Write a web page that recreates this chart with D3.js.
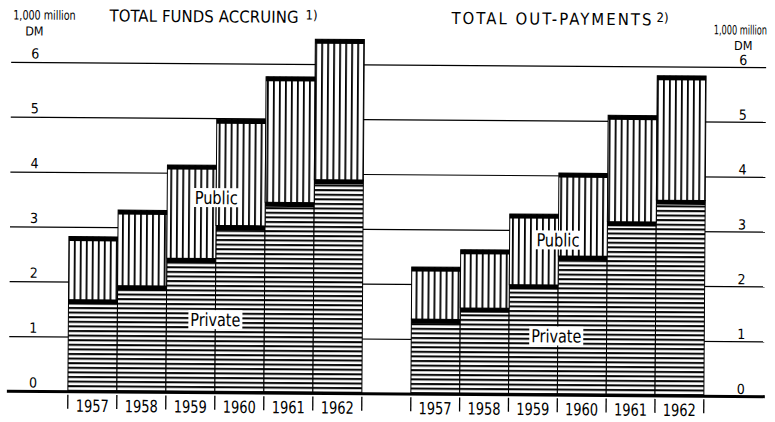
<!DOCTYPE html>
<html>
<head>
<meta charset="utf-8">
<script src="https://cdn.jsdelivr.net/npm/d3@7"></script>
<style>
  body { margin: 0; background: #fff; }
  svg { display: block; font-family: "DejaVu Sans Condensed", "Liberation Sans Narrow", "DejaVu Sans", sans-serif; font-stretch: condensed; }
</style>
</head>
<body>
<svg></svg>
<script>
// Datos en 1.000 millones de DM
const years = ["1957", "1958", "1959", "1960", "1961", "1962"];
const fundsPrivate = [1.68, 1.94, 2.45, 3.05, 3.48, 3.90];
const fundsPublic  = [1.15, 1.38, 1.70, 1.94, 2.29, 2.56];
const payPrivate   = [1.37, 1.58, 2.01, 2.54, 3.17, 3.57];
const payPublic    = [0.95, 1.06, 1.29, 1.51, 1.94, 2.27];
const yTicks = [0, 1, 2, 3, 4, 5, 6];

const width = 775, height = 422;

const svg = d3.select("svg")
  .attr("width", width)
  .attr("height", height);

// Patrones de rayado (público vertical, privado horizontal)
const defs = svg.append("defs");
const vert = defs.append("pattern")
  .attr("id", "vert")
  .attr("patternUnits", "userSpaceOnUse")
  .attr("width", 6).attr("height", 6);
vert.append("rect").attr("width", 6).attr("height", 6).attr("fill", "#fff");
vert.append("rect").attr("x", 2).attr("width", 1.8).attr("height", 6).attr("fill", "#000");

const horiz = defs.append("pattern")
  .attr("id", "horiz")
  .attr("patternUnits", "userSpaceOnUse")
  .attr("width", 6).attr("height", 4.6);
horiz.append("rect").attr("width", 6).attr("height", 4.6).attr("fill", "#fff");
horiz.append("rect").attr("y", 1).attr("width", 6).attr("height", 2).attr("fill", "#000");

// el escaneo original está ligeramente girado
const g = svg.append("g").attr("transform", "rotate(0.4, 387, 230)");

const y = d3.scaleLinear().domain([0, 6]).range([394, 65]);

// texto comprimido a un ancho dado
function narrowText(sel, w) {
  return sel.attr("textLength", w).attr("lengthAdjust", "spacingAndGlyphs");
}

// Líneas de la cuadrícula
g.append("g")
  .selectAll("line")
  .data(yTicks.filter(d => d > 0))
  .join("line")
  .attr("x1", 10).attr("x2", 765)
  .attr("y1", d => y(d)).attr("y2", d => y(d))
  .attr("stroke", "#000")
  .attr("stroke-width", 1.2);

// Etiquetas del eje izquierdo y derecho
g.append("g")
  .selectAll("text")
  .data(yTicks)
  .join("text")
  .attr("x", 34).attr("y", d => y(d) - 4)
  .attr("text-anchor", "middle")
  .style("font-size", "14px")
  .text(d => d);

g.append("g")
  .selectAll("text")
  .data(yTicks)
  .join("text")
  .attr("x", 742).attr("y", d => y(d) - 2.5)
  .attr("text-anchor", "middle")
  .style("font-size", "14px")
  .text(d => d);

// Unidades (comprimidas con una escala horizontal)
g.append("text")
  .attr("transform", "translate(43,22) scale(0.82,1)")
  .attr("text-anchor", "middle")
  .style("font-size", "13px").text("1,000 million");
g.append("text").attr("x", 33).attr("y", 38).attr("text-anchor", "middle")
  .style("font-size", "12.5px").text("DM");
g.append("text")
  .attr("transform", "translate(739,32) scale(0.7,1)")
  .attr("text-anchor", "middle")
  .style("font-size", "13px").text("1,000 million");
g.append("text").attr("x", 742).attr("y", 47.5).attr("text-anchor", "middle")
  .style("font-size", "12.5px").text("DM");

const panels = [
  { title: "TOTAL FUNDS ACCRUING", note: "1)", tx: 108, tw: 189, nx: 304,
    priv: fundsPrivate, pub: fundsPublic, x0: 69, x1: 363,
    pubLabel: [216, 199], privLabel: [216, 321] },
  { title: "TOTAL OUT-PAYMENTS", note: "2)", tx: 450, tw: 200, nx: 655,
    priv: payPrivate, pub: payPublic, x0: 412, x1: 705,
    pubLabel: [558, 239], privLabel: [557, 335] }
];

const stack = d3.stack().keys(["priv", "pub"]);

panels.forEach(p => {
  const rows = years.map((yr, i) => ({ year: yr, priv: p.priv[i], pub: p.pub[i] }));
  const series = stack(rows);
  const x = d3.scaleBand().domain(years).range([p.x0, p.x1]).padding(0);

  // Título
  g.append("text")
    .attr("x", p.tx).attr("y", 23.5)
    .attr("textLength", p.tw).attr("lengthAdjust", "spacing")
    .style("font-size", "16.5px")
    .text(p.title);
  g.append("text")
    .attr("x", p.nx).attr("y", 20)
    .style("font-size", "13px")
    .text(p.note);

  // Barras apiladas
  g.append("g")
    .selectAll("g")
    .data(series)
    .join("g")
    .each(function(s) {
      d3.select(this).selectAll("rect")
        .data(s)
        .join("rect")
        .attr("x", d => x(d.data.year))
        .attr("y", d => y(d[1]))
        .attr("width", x.bandwidth())
        .attr("height", d => y(d[0]) - y(d[1]))
        .attr("fill", s.key === "pub" ? "url(#vert)" : "url(#horiz)")
        .attr("stroke", "#000")
        .attr("stroke-width", 1);
    });

  // Franjas negras en la parte superior de cada segmento
  g.append("g")
    .selectAll("g")
    .data(series)
    .join("g")
    .selectAll("rect")
    .data(d => d)
    .join("rect")
    .attr("x", d => x(d.data.year))
    .attr("y", d => y(d[1]))
    .attr("width", x.bandwidth())
    .attr("height", 4.5)
    .attr("fill", "#000");

  // Etiquetas Public / Private con fondo blanco
  [["Public", p.pubLabel, 43], ["Private", p.privLabel, 50]].forEach(([txt, pos, w]) => {
    const t = narrowText(g.append("text")
      .attr("x", pos[0]).attr("y", pos[1])
      .attr("dy", "0.35em")
      .attr("text-anchor", "middle")
      .style("font-size", "18px")
      .text(txt), w);
    const bb = t.node().getBBox();
    g.insert("rect", () => t.node())
      .attr("x", bb.x - 2).attr("y", bb.y + 1)
      .attr("width", bb.width + 4).attr("height", bb.height - 2)
      .attr("fill", "#fff");
  });

  // Años y separadores
  const edges = years.map(d => x(d)).concat([p.x1]);
  g.append("g")
    .selectAll("line")
    .data(edges)
    .join("line")
    .attr("x1", d => d).attr("x2", d => d)
    .attr("y1", 397).attr("y2", 411)
    .attr("stroke", "#000").attr("stroke-width", 1.3);

  g.append("g")
    .selectAll("text")
    .data(years)
    .join("text")
    .attr("x", d => x(d) + x.bandwidth() / 2)
    .attr("y", 414)
    .attr("text-anchor", "middle")
    .attr("textLength", 33).attr("lengthAdjust", "spacingAndGlyphs")
    .style("font-size", "17px")
    .text(d => d);
});

// Línea base
g.append("line")
  .attr("x1", 8).attr("x2", 766)
  .attr("y1", y(0)).attr("y2", y(0))
  .attr("stroke", "#000")
  .attr("stroke-width", 3);
</script>
</body>
</html>
